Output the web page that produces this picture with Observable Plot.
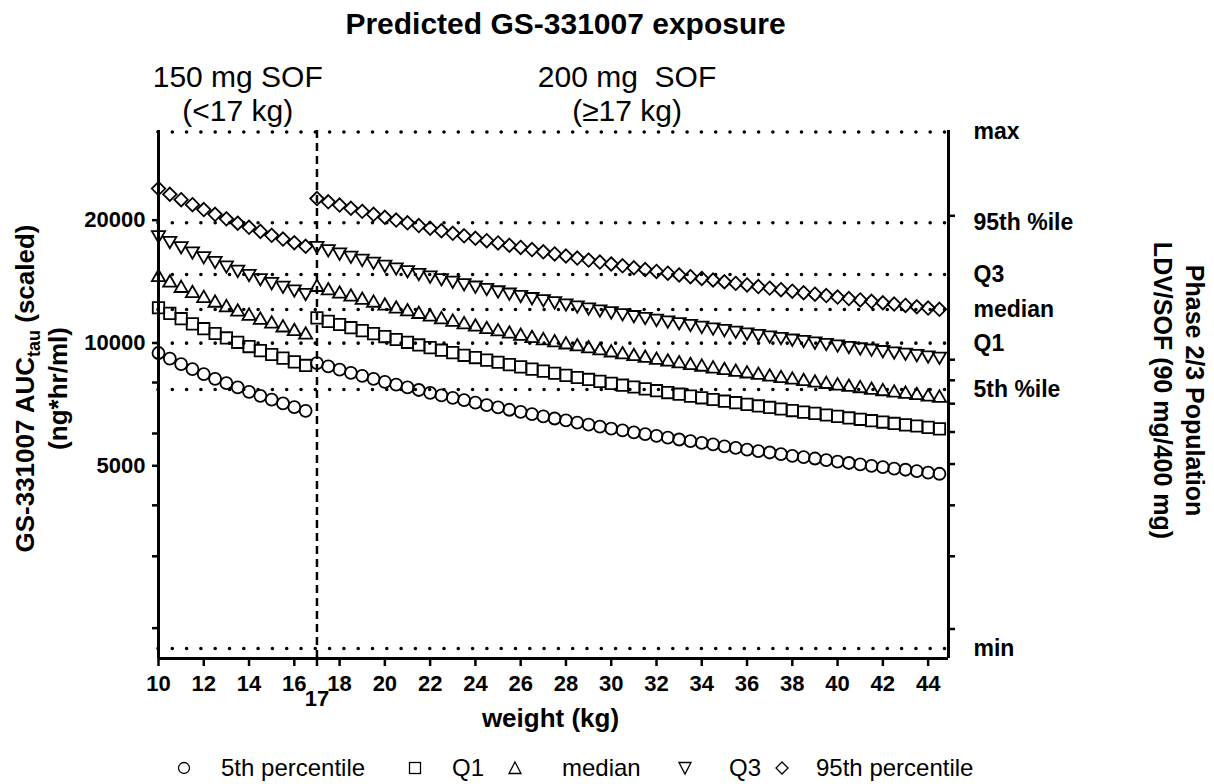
<!DOCTYPE html>
<html>
<head>
<meta charset="utf-8">
<script src="https://cdn.jsdelivr.net/npm/d3@7"></script>
<script src="https://cdn.jsdelivr.net/npm/@observablehq/plot@0.6"></script>
<style>
  body { margin: 0; background: #fff; }
  #chart svg text { white-space: pre; }
  #legend { position: relative; width: 1214px; height: 44px; font-family: "Liberation Sans", Arial, sans-serif; font-size: 24px; line-height: 1; color: #000; }
  #legend span { position: absolute; top: 16px; white-space: nowrap; }
  #legend svg { position: absolute; top: 20px; overflow: visible; }
</style>
</head>
<body>
<div id="chart"></div>
<div id="legend">
  <svg width="16" height="16" style="left:176px"><circle cx="8" cy="8" r="5.5" fill="none" stroke="#000" stroke-width="1.3"/></svg>
  <span style="left:221px">5th percentile</span>
  <svg width="16" height="16" style="left:407px"><rect x="2.5" y="2.5" width="11" height="11" fill="none" stroke="#000" stroke-width="1.3"/></svg>
  <span style="left:452px">Q1</span>
  <svg width="16" height="16" style="left:507px"><path d="M8,2L14,13.5L2,13.5Z" fill="none" stroke="#000" stroke-width="1.3"/></svg>
  <span style="left:562px">median</span>
  <svg width="16" height="16" style="left:677px"><path d="M2,2.5L14,2.5L8,14Z" fill="none" stroke="#000" stroke-width="1.3"/></svg>
  <span style="left:729px">Q3</span>
  <svg width="16" height="16" style="left:774px"><path d="M8,2L14,8L8,14L2,8Z" fill="none" stroke="#000" stroke-width="1.3"/></svg>
  <span style="left:816px">95th percentile</span>
</div>
<script>
// ---------- data ----------
const weightLow = [10, 10.5, 11, 11.5, 12, 12.5, 13, 13.5, 14, 14.5, 15, 15.5, 16, 16.5];
const weightHigh = [17, 17.5, 18, 18.5, 19, 19.5, 20, 20.5, 21, 21.5, 22, 22.5, 23, 23.5, 24, 24.5, 25, 25.5, 26, 26.5, 27, 27.5, 28, 28.5, 29, 29.5, 30, 30.5, 31, 31.5, 32, 32.5, 33, 33.5, 34, 34.5, 35, 35.5, 36, 36.5, 37, 37.5, 38, 38.5, 39, 39.5, 40, 40.5, 41, 41.5, 42, 42.5, 43, 43.5, 44, 44.5];

// 150 mg SOF (<17 kg)
const p5Low  = [9450, 9160, 8880, 8630, 8390, 8170, 7970, 7780, 7590, 7420, 7260, 7110, 6960, 6820];
const q1Low  = [12200, 11820, 11470, 11140, 10840, 10550, 10290, 10040, 9800, 9580, 9370, 9180, 8990, 8810];
const medLow = [14650, 14190, 13770, 13380, 13010, 12670, 12350, 12050, 11770, 11510, 11260, 11020, 10790, 10580];
const q3Low  = [18200, 17630, 17110, 16620, 16170, 15740, 15350, 14980, 14630, 14290, 13980, 13690, 13410, 13140];
const p95Low = [23900, 23150, 22460, 21830, 21230, 20670, 20150, 19660, 19210, 18770, 18360, 17980, 17610, 17260];

// 200 mg SOF (>=17 kg)
const p5High  = [8930, 8760, 8600, 8450, 8310, 8170, 8030, 7910, 7780, 7670, 7550, 7440, 7340, 7240, 7140, 7040, 6950, 6860, 6780, 6690, 6610, 6530, 6460, 6380, 6310, 6240, 6170, 6110, 6040, 5980, 5920, 5860, 5800, 5750, 5690, 5640, 5580, 5530, 5480, 5430, 5390, 5340, 5290, 5250, 5210, 5160, 5120, 5080, 5040, 5000, 4960, 4920, 4890, 4850, 4810, 4780];
const q1High  = [11520, 11300, 11100, 10900, 10720, 10540, 10370, 10200, 10040, 9890, 9740, 9600, 9470, 9330, 9210, 9080, 8970, 8850, 8740, 8630, 8530, 8430, 8330, 8230, 8140, 8050, 7960, 7880, 7800, 7720, 7640, 7560, 7490, 7410, 7340, 7270, 7200, 7140, 7070, 7010, 6950, 6890, 6830, 6770, 6720, 6660, 6610, 6550, 6500, 6450, 6400, 6350, 6300, 6260, 6210, 6160];
const medHigh = [13850, 13590, 13340, 13110, 12880, 12670, 12460, 12260, 12070, 11890, 11710, 11540, 11380, 11220, 11070, 10920, 10780, 10640, 10510, 10380, 10250, 10130, 10010, 9900, 9790, 9680, 9570, 9470, 9370, 9280, 9180, 9090, 9000, 8910, 8830, 8740, 8660, 8580, 8500, 8430, 8350, 8280, 8210, 8140, 8070, 8010, 7940, 7880, 7820, 7750, 7690, 7630, 7580, 7520, 7460, 7410];
const q3High  = [17140, 16820, 16510, 16220, 15940, 15680, 15420, 15180, 14940, 14710, 14500, 14290, 14080, 13890, 13700, 13520, 13340, 13170, 13000, 12840, 12690, 12540, 12390, 12250, 12110, 11980, 11850, 11720, 11600, 11480, 11360, 11250, 11140, 11030, 10920, 10820, 10720, 10620, 10520, 10430, 10340, 10250, 10160, 10080, 9990, 9910, 9830, 9750, 9670, 9600, 9520, 9450, 9380, 9310, 9240, 9170];
const p95High = [22600, 22180, 21780, 21390, 21020, 20670, 20330, 20010, 19700, 19400, 19110, 18840, 18570, 18310, 18060, 17820, 17590, 17360, 17150, 16940, 16730, 16530, 16340, 16150, 15970, 15790, 15620, 15460, 15290, 15140, 14980, 14830, 14680, 14540, 14400, 14270, 14130, 14000, 13880, 13750, 13630, 13510, 13400, 13280, 13170, 13070, 12960, 12850, 12750, 12650, 12550, 12460, 12360, 12270, 12180, 12090];

// Phase 2/3 population reference levels (right axis)
const refLabels = ["max", "95th %ile", "Q3", "median", "Q1", "5th %ile", "min"];
const refValues = [32900, 19710, 14720, 12080, 9990, 7690, 1783];

// axes
const xDomain = [10, 44.9];
const yDomain = [1685, 33180];
const xTicks = [10, 12, 14, 16, 18, 20, 22, 24, 26, 28, 30, 32, 34, 36, 38, 40, 42, 44];
const xCutTick = [17];
const yMajorTicks = [5000, 10000, 20000];
const yMinorTicks = [2000, 3000, 4000, 6000, 8000];
const yRightTicks = [1990, 3000, 4000, 5050, 6050, 7100, 8100, 9100, 20500];

const doseTop = ["150 mg SOF", "200 mg  SOF"];
const doseBottom = ["(<17 kg)", "(\u226517 kg)"];
const doseX = [13.5, 30.7];

const yTitle = "GS-331007 AUCtau (scaled)";

// ---------- symbols ----------
const symSquare = {draw(c, size) { const r = Math.sqrt(size / Math.PI) * 0.95; c.moveTo(-r, -r); c.lineTo(r, -r); c.lineTo(r, r); c.lineTo(-r, r); c.closePath(); }};
const symTriUp = {draw(c, size) { const r = Math.sqrt(size / Math.PI); const w = r * 1.1, h = r * 0.95; c.moveTo(0, -h); c.lineTo(w, h); c.lineTo(-w, h); c.closePath(); }};
const symTriDown = {draw(c, size) { const r = Math.sqrt(size / Math.PI); const w = r * 1.1, h = r * 0.95; c.moveTo(-w, -h); c.lineTo(w, -h); c.lineTo(0, h); c.closePath(); }};
const symDiamond = {draw(c, size) { const r = Math.sqrt(size / Math.PI) * 1.12; c.moveTo(0, -r); c.lineTo(r, 0); c.lineTo(0, r); c.lineTo(-r, 0); c.closePath(); }};

const series = [
  {name: "5th percentile", symbol: "circle", low: p5Low, high: p5High},
  {name: "Q1", symbol: symSquare, low: q1Low, high: q1High},
  {name: "median", symbol: symTriUp, low: medLow, high: medHigh},
  {name: "Q3", symbol: symTriDown, low: q3Low, high: q3High},
  {name: "95th percentile", symbol: symDiamond, low: p95Low, high: p95High}
];
function rowsOf(s) {
  return weightLow.map((w, i) => ({w, v: s.low[i]}))
    .concat(weightHigh.map((w, i) => ({w, v: s.high[i]})));
}

const font = "Liberation Sans, Arial, sans-serif";
const bold = {fontWeight: "bold"};

const plot = Plot.plot({
  width: 1214,
  height: 740,
  marginLeft: 158,
  marginRight: 266,
  marginTop: 130,
  marginBottom: 82,
  style: {fontFamily: font, color: "#000", background: "#fff", overflow: "visible"},
  x: {domain: xDomain},
  y: {type: "log", domain: yDomain},
  marks: [
    Plot.ruleY(refValues, {stroke: "#000", strokeWidth: 3.6, strokeDasharray: "0 14.3", strokeLinecap: "round"}),
    Plot.ruleX(xCutTick, {stroke: "#000", strokeWidth: 2.5, strokeDasharray: "8 5"}),
    ...series.map(s => Plot.dot(rowsOf(s), {x: "w", y: "v", r: 6, symbol: s.symbol, stroke: "#000", fill: "none", strokeWidth: 1.8})),
    Plot.ruleX([xDomain[0], xDomain[1]], {stroke: "#000", strokeWidth: 3}),
    Plot.ruleY([yDomain[0]], {stroke: "#000", strokeWidth: 3}),
    Plot.axisY(yMajorTicks, {anchor: "left", tickSize: 6, tickPadding: 7, strokeWidth: 2.5, fontSize: 22, ...bold, label: null, tickFormat: d => String(d)}),
    Plot.axisY(yMinorTicks, {anchor: "left", tickSize: 6, strokeWidth: 2.5, label: null, tickFormat: () => ""}),
    Plot.axisY(yRightTicks, {anchor: "right", tickSize: 6, strokeWidth: 2.5, label: null, tickFormat: () => ""}),
    Plot.axisX(xTicks, {anchor: "bottom", tickSize: 8, tickPadding: 9, strokeWidth: 2.5, fontSize: 22, ...bold, label: null, tickFormat: d => String(d)}),
    Plot.axisX(xCutTick, {anchor: "bottom", tickSize: 8, tickPadding: 24, strokeWidth: 2.5, fontSize: 22, ...bold, label: null, tickFormat: d => String(d)}),
    // right-hand reference labels
    Plot.text(refLabels, {y: refValues, text: d => d, frameAnchor: "right", dx: 25, textAnchor: "start", lineAnchor: "middle", fontSize: 23, ...bold}),
    // title
    Plot.text(["Predicted GS-331007 exposure"], {text: d => d, frameAnchor: "top", dx: 12, dy: -106, textAnchor: "middle", lineAnchor: "middle", fontSize: 30, ...bold}),
    // dose annotations
    Plot.text(doseTop, {x: doseX, text: d => d, frameAnchor: "top", dy: -53, textAnchor: "middle", lineAnchor: "middle", fontSize: 30}),
    Plot.text(doseBottom, {x: doseX, text: d => d, frameAnchor: "top", dy: -19, textAnchor: "middle", lineAnchor: "middle", fontSize: 30}),
    // x axis title
    Plot.text(["weight (kg)"], {text: d => d, frameAnchor: "bottom", dx: -3, dy: 60, textAnchor: "middle", lineAnchor: "middle", fontSize: 26, ...bold}),
    // left axis title (two lines)
    Plot.text([yTitle], {text: d => d, frameAnchor: "left", rotate: -90, dx: -133, dy: -6, textAnchor: "middle", lineAnchor: "middle", fontSize: 26, ...bold}),
    Plot.text(["(ng*hr/ml)"], {text: d => d, frameAnchor: "left", rotate: -90, dx: -100, dy: -6, textAnchor: "middle", lineAnchor: "middle", fontSize: 26, ...bold}),
    // right axis title (two lines)
    Plot.text(["Phase 2/3 Population"], {text: d => d, frameAnchor: "right", rotate: 90, dx: 245, dy: -4, textAnchor: "middle", lineAnchor: "middle", fontSize: 25, ...bold}),
    Plot.text(["LDV/SOF (90 mg/400 mg)"], {text: d => d, frameAnchor: "right", rotate: 90, dx: 213, dy: -4, textAnchor: "middle", lineAnchor: "middle", fontSize: 25, ...bold})
  ]
});

// subscript "tau" in the left axis title
d3.select(plot).selectAll("text").filter(function() { return this.textContent === yTitle; }).each(function() {
  const t = d3.select(this);
  t.text(null);
  t.append("tspan").text("GS-331007 AUC");
  t.append("tspan").attr("font-size", "18px").attr("dy", "6").text("tau");
  t.append("tspan").attr("dy", "-6").text(" (scaled)");
});

document.getElementById("chart").appendChild(plot);
</script>
</body>
</html>
